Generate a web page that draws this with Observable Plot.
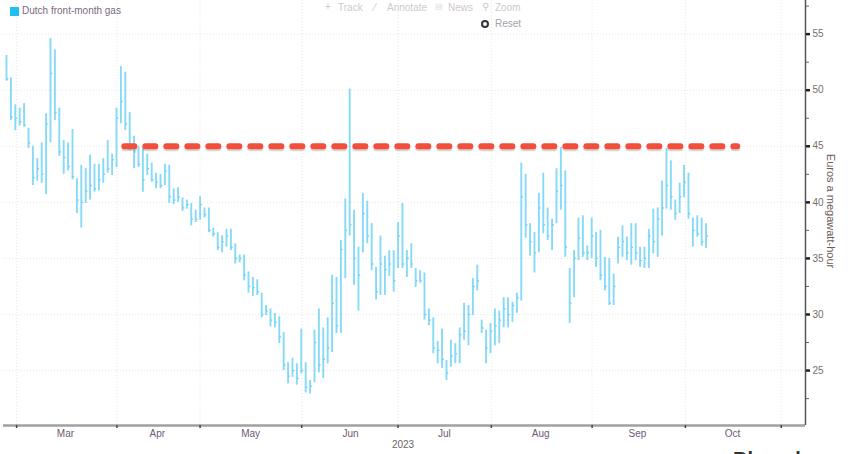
<!DOCTYPE html>
<html><head><meta charset="utf-8">
<script src="https://cdn.jsdelivr.net/npm/d3@7"></script>
<script src="https://cdn.jsdelivr.net/npm/@observablehq/plot@0.6"></script>
<style>
body{margin:0;background:#fff;}
#wrap{position:relative;width:848px;height:454px;overflow:hidden;font-family:"Liberation Sans",Arial,sans-serif;}
#wrap svg{position:absolute;left:0;top:0;}
.ov{position:absolute;white-space:nowrap;line-height:1;}
</style></head><body><div id="wrap"></div>
<script>
// Daily OHLC-style bars (trading-day index), Euros a megawatt-hour
const highs = [53.1,51.1,48.7,48.4,48.8,46.6,45.0,43.9,45.3,47.9,
 54.6,53.6,48.4,45.5,45.3,46.5,42.1,43.3,43.0,44.2,
 43.4,43.4,43.9,45.5,44.3,48.4,52.1,51.6,48.0,45.9,
 45.0,44.8,44.3,43.5,42.6,42.5,43.4,43.3,41.2,41.3,
 40.4,40.2,39.9,39.3,40.5,39.5,39.5,37.7,37.3,37.0,
 37.6,37.6,36.3,35.3,35.3,33.8,33.3,33.1,31.9,30.8,
 30.5,30.1,29.8,28.4,25.7,26.1,25.6,28.7,25.7,24.1,
 28.6,30.5,28.8,29.7,33.5,33.3,36.6,40.3,50.1,39.3,
 36.0,40.8,40.1,38.1,34.2,37.0,35.2,35.7,35.7,38.2,
 39.9,35.7,36.3,34.1,33.9,33.7,30.5,29.7,27.6,28.7,
 25.9,27.7,27.4,28.8,31.0,30.8,33.2,34.4,29.5,28.6,
 29.2,30.5,30.3,31.5,31.5,31.1,31.9,43.5,42.5,38.1,
 37.3,40.8,42.6,39.5,38.5,43.0,44.9,42.8,34.1,35.7,
 38.6,38.8,36.1,38.6,37.3,37.5,35.1,35.0,33.6,36.9,
 37.9,36.9,38.1,38.1,36.0,36.0,37.6,39.4,39.5,41.9,
 44.8,43.7,40.2,41.7,43.3,42.6,38.6,38.8,38.6,38.1];
const lows = [50.8,47.3,46.4,46.8,46.7,44.8,41.5,41.9,41.7,40.7,
 45.3,47.3,44.1,42.5,42.8,42.0,39.0,37.7,39.9,40.2,
 40.9,41.0,41.7,42.6,42.4,43.1,47.0,46.4,44.6,43.0,
 43.1,40.9,42.4,41.8,41.2,41.2,41.5,39.9,39.8,40.0,
 39.2,39.4,37.9,38.2,38.4,38.6,37.3,36.9,35.7,35.5,
 36.0,35.7,34.5,34.6,33.0,31.9,31.6,31.7,29.7,29.9,
 28.9,28.8,27.4,25.0,23.8,24.4,23.7,24.7,23.0,22.9,
 23.9,24.8,24.3,25.6,26.6,28.3,28.3,33.2,37.0,32.6,
 30.3,35.5,36.3,33.9,31.3,31.7,31.7,33.4,32.0,34.1,
 34.1,33.3,34.1,32.4,32.8,29.5,29.0,26.5,25.6,25.2,
 24.1,25.3,25.6,25.6,27.7,27.2,29.9,32.1,28.3,25.6,
 26.5,27.2,27.4,28.8,28.8,29.3,30.1,31.2,36.8,35.2,
 33.7,35.5,37.2,36.6,35.7,38.1,39.3,35.1,29.2,31.5,
 34.8,35.1,34.8,35.0,34.2,33.0,32.1,30.8,30.8,34.5,
 35.1,34.8,34.4,34.8,34.2,34.1,34.1,35.4,35.1,37.0,
 39.4,39.3,38.4,39.0,40.4,38.5,36.0,36.9,36.1,35.9];
const closes = [51.0,47.6,47.5,47.2,46.9,45.3,42.2,43.0,42.5,47.0,
 51.5,48.0,44.5,44.0,43.2,42.3,40.2,40.0,41.0,41.5,
 41.2,42.0,42.5,43.0,43.8,47.5,49.0,47.0,45.0,44.5,
 43.4,42.0,43.0,42.0,41.8,41.5,42.8,40.5,40.2,40.5,
 39.5,39.8,38.5,38.5,39.8,38.9,37.5,37.2,36.0,36.5,
 37.0,36.0,35.0,35.0,33.5,32.5,32.4,32.0,30.0,30.3,
 29.5,29.3,28.0,25.5,24.5,25.0,24.3,25.0,23.5,23.6,
 27.5,25.5,26.0,27.0,31.0,29.0,35.8,37.5,38.0,35.0,
 33.5,39.0,37.0,34.5,32.0,34.5,34.0,34.5,33.0,37.0,
 34.5,35.0,34.5,33.0,33.0,30.0,29.5,27.0,26.8,26.0,
 24.8,26.3,26.5,28.2,28.5,30.0,32.5,33.0,28.8,27.0,
 28.5,29.0,29.5,30.5,30.0,30.8,31.5,40.5,38.0,36.5,
 35.5,39.5,38.0,37.0,38.0,41.0,41.5,36.0,31.0,35.0,
 36.8,35.5,35.5,37.0,35.0,33.5,32.5,31.0,32.5,36.0,
 36.5,35.5,36.0,35.5,34.8,35.0,37.0,36.5,38.5,39.5,
 41.5,40.5,39.0,40.5,41.8,39.0,37.5,37.2,36.5,37.0];

// Axis ticks (positions on the trading-day index) and labels
const monthStarts = [2.3, 25.1, 44.0, 67.1, 89.0, 110.2, 133.1, 154.3, 176.1];
const monthLabelPos = [13.4, 34.3, 55.5, 78.2, 99.5, 121.4, 143.4, 165.0];
const monthNames = ["Mar","Apr","May","Jun","Jul","Aug","Sep","Oct"];
const majorTicks = [25, 30, 35, 40, 45, 50, 55];
const minorTicks = [22.5, 27.5, 32.5, 37.5, 42.5, 47.5, 52.5, 57.5];
const xDomain = [-0.68, 181.6];
const yDomain = [20.1, 58.0];

// Resistance level annotation
const resistanceLevel = [45];
const resistanceSpan = [26.9, 166.2];

const bars = highs.map((h, i) => ({i, high: h, low: lows[i], close: closes[i]}));
const nameByPos = new Map(monthLabelPos.map((p, k) => [p, monthNames[k]]));

const barColor = "#86daf6";
const gridStyle = {stroke: "#e0e0e0", strokeDasharray: "1,2", strokeOpacity: 0.8};

const chart = Plot.plot({
  width: 848, height: 454,
  marginTop: 0, marginBottom: 29, marginLeft: 3, marginRight: 43,
  style: {fontFamily: "Liberation Sans, Arial, sans-serif", background: "transparent"},
  x: {type: "linear", domain: xDomain, axis: null},
  y: {domain: yDomain, axis: null},
  marks: [
    Plot.gridY(majorTicks, gridStyle),
    Plot.gridX(monthStarts, gridStyle),
    Plot.ruleX(bars, {x: "i", y1: "low", y2: "high", stroke: barColor, strokeWidth: 1.9}),
    Plot.link(bars, {x1: "i", x2: d => d.i + 0.4, y1: "close", y2: "close", stroke: "#6fd1f2", strokeWidth: 1.4}),
    Plot.ruleY(resistanceLevel, {x1: resistanceSpan[0], x2: resistanceSpan[1], dy: 2, stroke: "#777", strokeOpacity: 0.3, strokeWidth: 6, strokeDasharray: "10,11", strokeLinecap: "round"}),
    Plot.ruleY(resistanceLevel, {x1: resistanceSpan[0], x2: resistanceSpan[1], stroke: "#f24e3a", strokeWidth: 6, strokeDasharray: "10,11", strokeLinecap: "round"}),
    Plot.ruleY([yDomain[0]], {stroke: "#a0a0a0", strokeWidth: 2.5}),
    Plot.ruleX([xDomain[1]], {stroke: "#555", strokeWidth: 1.5}),
    Plot.axisX(monthStarts, {anchor: "bottom", tickSize: 3, stroke: "#444", strokeWidth: 1.5, tickFormat: () => "", label: null}),
    Plot.axisX(monthLabelPos, {anchor: "bottom", tickSize: 0, tickPadding: 4, tickFormat: d => nameByPos.get(d), fontSize: 10, fill: "#6e5a76", label: null}),
    Plot.axisY(minorTicks, {anchor: "right", tickSize: 3, stroke: "#666", tickFormat: () => "", label: null}),
    Plot.axisY(majorTicks, {anchor: "right", tickSize: 4, stroke: "#222", strokeWidth: 2.5, tickFormat: () => "", label: null}),
    Plot.axisY(majorTicks, {anchor: "right", tickSize: 0, tickPadding: 7, fontSize: 10, fill: "#7a6e6a", label: null})
  ]
});

const wrap = document.getElementById("wrap");
wrap.appendChild(chart);

function ov(html, css) {
  const d = document.createElement("div");
  d.className = "ov";
  d.innerHTML = html;
  Object.assign(d.style, css);
  wrap.appendChild(d);
  return d;
}
// legend
ov("", {left: "10px", top: "7px", width: "9px", height: "9px", background: "#1fc0ef"});
ov("Dutch front-month gas", {left: "22px", top: "6px", fontSize: "10px", color: "#7d6a82"});
// toolbar (faint)
const tb = {fontSize: "10px", color: "#cfc8d0"};
ov("+", Object.assign({left: "325px", top: "2px"}, tb));
ov("Track", Object.assign({left: "338px", top: "3px"}, tb));
ov("&#8260;", Object.assign({left: "374px", top: "3px"}, tb));
ov("Annotate", Object.assign({left: "387px", top: "3px"}, tb));
ov("&#9636;", Object.assign({left: "435px", top: "3px", fontSize: "8px", color: "#ddd"}));
ov("News", Object.assign({left: "448px", top: "3px"}, tb));
ov("&#9906;", Object.assign({left: "482px", top: "2px"}, tb));
ov("Zoom", Object.assign({left: "495px", top: "3px"}, tb));
ov("", {left: "481px", top: "20px", width: "4px", height: "4px", border: "2px solid #333", borderRadius: "50%"});
ov("Reset", {left: "495px", top: "19px", fontSize: "10px", color: "#a8a0a8"});
// y-axis title
ov("Euros a megawatt-hour", {left: "830px", top: "211px", fontSize: "11px", color: "#6a5a60", transform: "translate(-50%,-50%) rotate(90deg)"});
// x-axis year
ov("2023", {left: "403px", top: "445px", fontSize: "10px", color: "#6e6468", transform: "translate(-50%,-50%)"});
// cropped branding (only its top edge shows in the reference)
ov("Bloomberg", {left: "733px", top: "449px", fontSize: "20px", color: "#333", fontWeight: "bold"});
</script></body></html>
